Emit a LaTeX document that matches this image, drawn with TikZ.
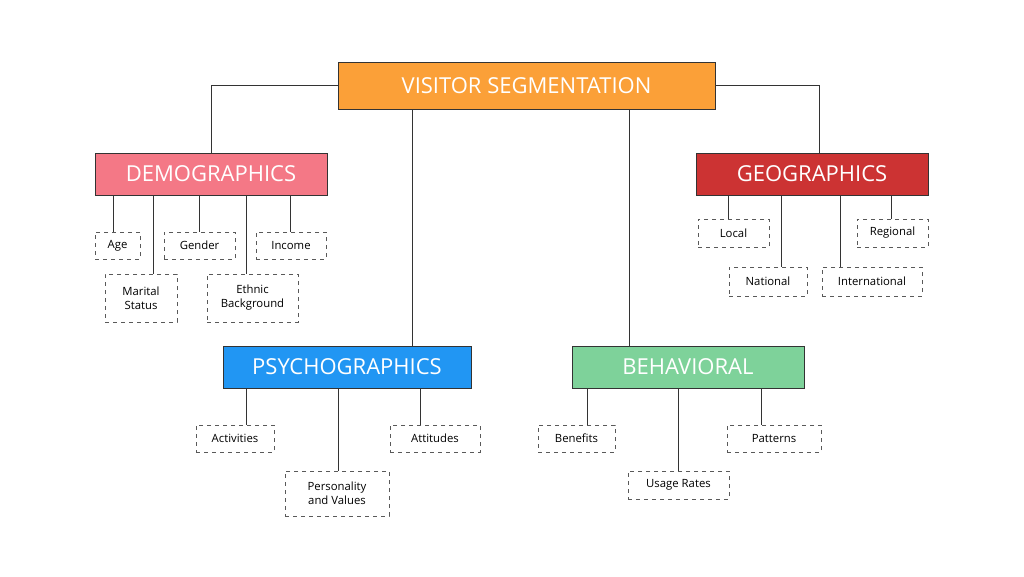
\documentclass[tikz,border=0pt]{standalone}
\usepackage{fontspec}
\setmainfont{Open Sans}
\begin{document}
\begin{tikzpicture}[x=0.75pt,y=-0.75pt,
  head/.style={draw=black!80,line width=0.6pt,text=white,font=\fontsize{16.5}{18}\selectfont,inner sep=0pt},
  leaf/.style={draw=black!65,dashed,line width=0.5pt,font=\fontsize{8.5}{10.5}\selectfont,align=center,inner sep=0pt},
  conn/.style={draw=black!80,line width=0.6pt}]
\useasboundingbox[fill=white] (0,0) rectangle (1024,576);
\definecolor{cor}{HTML}{FBA038}
\definecolor{cpk}{HTML}{F47886}
\definecolor{crd}{HTML}{CC3333}
\definecolor{cbl}{HTML}{2196F3}
\definecolor{cgr}{HTML}{7ED29A}
\newcommand{\bx}[6]{\node[#1,minimum width={(#4-#3)*0.75pt},minimum height={(#6-#5)*0.75pt}] (#2) at ({(#3+#4)/2},{(#5+#6)/2})}
\bx{head,fill=cor}{top}{338}{715}{62}{109} {VISITOR SEGMENTATION};
\bx{head,fill=cpk}{dem}{95}{327}{153}{195} {DEMOGRAPHICS};
\bx{head,fill=crd}{geo}{696}{928}{153}{195} {GEOGRAPHICS};
\bx{head,fill=cbl}{psy}{223}{471}{346}{388} {PSYCHOGRAPHICS};
\bx{head,fill=cgr}{beh}{572}{804}{346}{388} {BEHAVIORAL};
\bx{leaf}{age}{95}{140}{232}{259} {Age};
\bx{leaf}{mar}{105}{177}{274}{322} {Marital\\Status};
\bx{leaf}{gen}{164}{235}{232}{259} {Gender};
\bx{leaf}{eth}{207}{298}{274}{322} {Ethnic\\Background};
\bx{leaf}{inc}{256}{326}{232}{259} {Income};
\bx{leaf}{loc}{698}{769}{219}{247} {Local};
\bx{leaf}{nat}{729}{807}{267}{296} {National};
\bx{leaf}{int}{822}{922}{267}{296} {International};
\bx{leaf}{reg}{857}{928}{219}{247} {Regional};
\bx{leaf}{act}{196}{274}{425}{452} {Activities};
\bx{leaf}{per}{285}{389}{471}{516} {Personality\\and Values};
\bx{leaf}{att}{390}{480}{425}{452} {Attitudes};
\bx{leaf}{ben}{538}{615}{425}{452} {Benefits};
\bx{leaf}{usa}{628}{729}{471}{499} {Usage Rates};
\bx{leaf}{pat}{727}{821}{425}{452} {Patterns};
\draw[conn] (top.west) -| (dem.north -| 211,0);
\draw[conn] (top.east) -| (geo.north -| 819,0);
\draw[conn] (top.south -| 412,0) -- (psy.north -| 412,0);
\draw[conn] (top.south -| 629,0) -- (beh.north -| 629,0);
\foreach \c/\p/\xx in {age/dem/113,mar/dem/153,gen/dem/199,eth/dem/246,inc/dem/290,
  loc/geo/728,nat/geo/781,int/geo/840,reg/geo/891,
  act/psy/246,per/psy/338,att/psy/420,ben/beh/587,usa/beh/678,pat/beh/761}
  \draw[conn] (\p.south -| \xx,0) -- (\c.north -| \xx,0);
\end{tikzpicture}
\end{document}
